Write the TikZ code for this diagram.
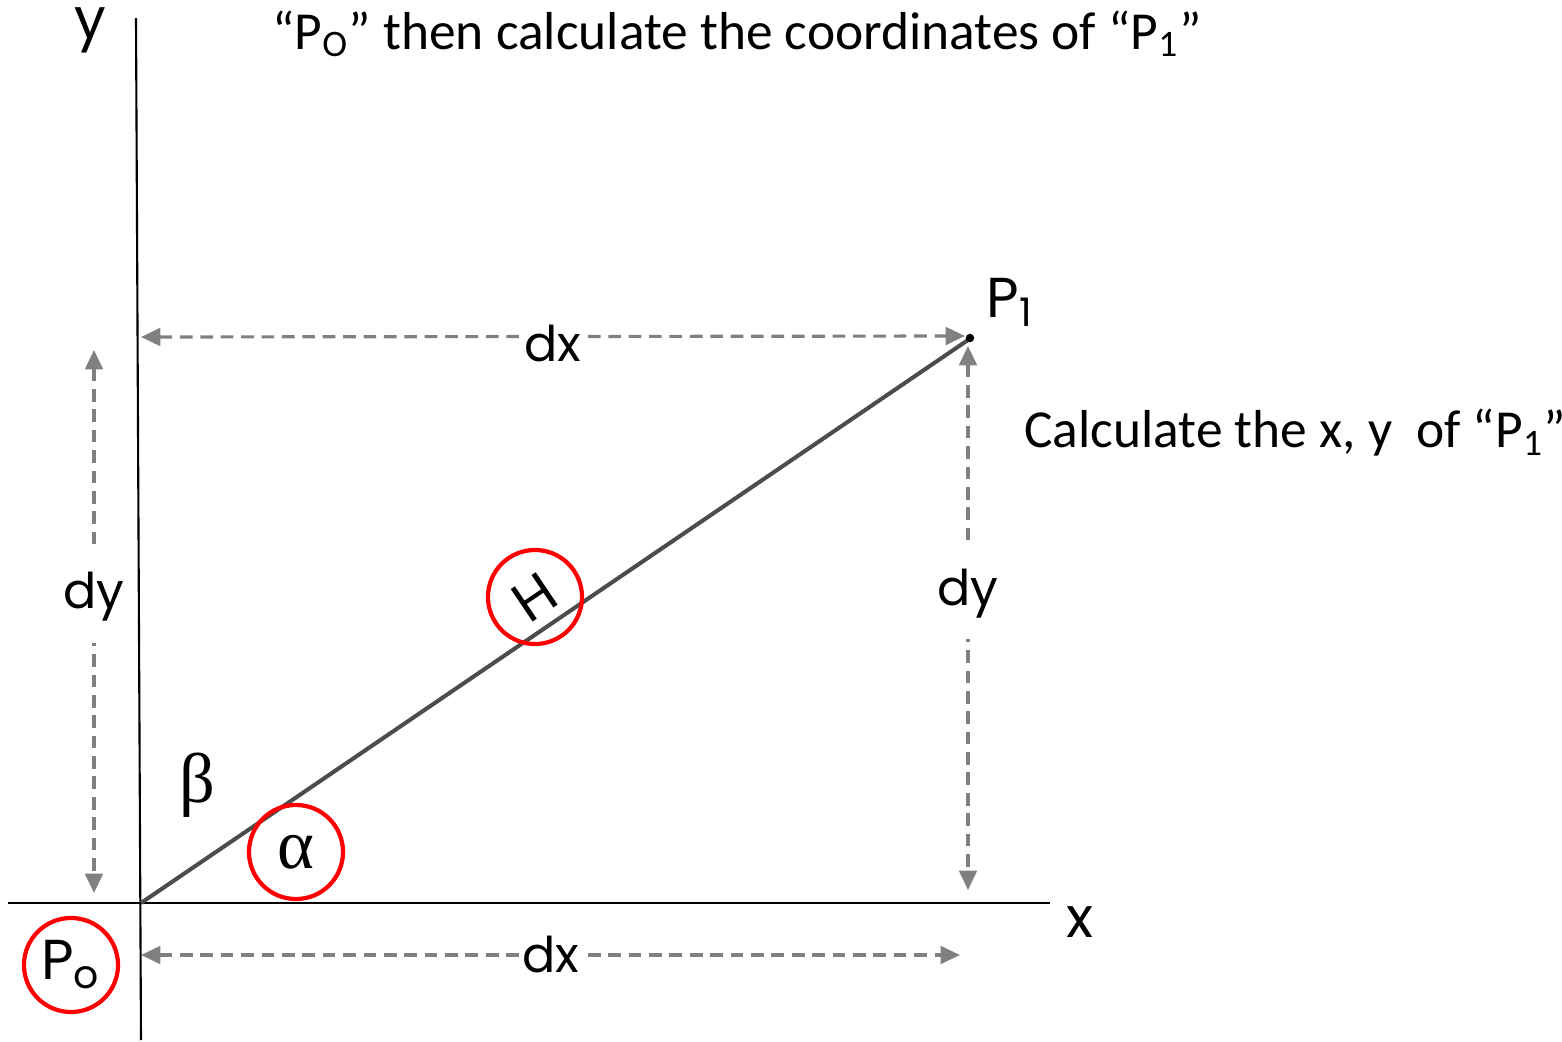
\documentclass[tikz,border=0pt]{standalone}
\usepackage{fontspec}
\setmainfont{Carlito}
\newfontfamily\handfont{Poppins}
\newfontfamily\greekfont{Liberation Serif}
\usepackage{tikz}
\usetikzlibrary{arrows.meta}

\tikzset{
  axisline/.style={line width=0.6pt},
  dimline/.style={draw=gray, line width=0.9pt, dash pattern=on 3.6pt off 2.2pt,
    {Triangle[length=5.5pt,width=5pt]}-{Triangle[length=5.5pt,width=5pt]}},
  dimlabel/.style={fill=white, inner xsep=1pt, inner ysep=2pt, font=\handfont\fontsize{14}{16}\selectfont},
  ring/.style={circle, draw=red, line width=1.2pt, minimum size=0.94cm, inner sep=0pt},
  hand/.style={font=\handfont\fontsize{16}{18}\selectfont},
  note/.style={font=\fontsize{15.2}{18}\selectfont, anchor=west}
}

\begin{document}
\begin{tikzpicture}[x=0.01cm, y=-0.01cm]
  \useasboundingbox (0,0) rectangle (1562,1042);
  % axes
  \coordinate (ytop) at (136,18);
  \coordinate (ybot) at (141,1040);
  \coordinate (xleft) at (8,903);
  \coordinate (xright) at (1050,903);
  \draw[axisline] (ytop) -- (ybot);
  \draw[axisline] (xleft) -- (xright);
  \node[hand] (ylab) at (90,30) {y};
  \node[hand] (xlab) at (1080,922) {x};

  % the segment from P0 to P1
  \coordinate (O) at (141,903);
  \coordinate (P1) at (968,340);
  \draw[line width=1.15pt, black!70] (O) -- (P1);
  \fill (970,338) circle (1.2pt);
  \node[hand] (p1lab) at (1010,302) {P\textsubscript{1}};

  % dimensions
  \coordinate (dxa) at (965,336);
  \coordinate (dxb) at (141,337);
  \draw[dimline] (dxb) -- node[dimlabel, yshift=-2pt] (dxtop) {dx} (dxa);
  \coordinate (dyla) at (94,350);
  \coordinate (dylb) at (94,893);
  \draw[dimline] (dyla) -- node[dimlabel, inner ysep=6pt, pos=0.455] (dyleft) {dy} (dylb);
  \coordinate (dyra) at (968,346);
  \coordinate (dyrb) at (968,890);
  \draw[dimline] (dyra) -- node[dimlabel, inner ysep=6pt, pos=0.455] (dyright) {dy} (dyrb);
  \coordinate (dxc) at (141,955);
  \coordinate (dxd) at (960,955);
  \draw[dimline] (dxc) -- node[dimlabel] (dxbot) {dx} (dxd);

  % marked quantities
  \node[ring, rotate=34, hand] (H) at (535,597) {H};
  \node[ring, font=\greekfont\fontsize{20}{22}\selectfont] (alpha) at (296,852) {α};
  \node[ring, hand] (P0) at (71,965) {P\textsubscript{o}};
  \node[font=\greekfont\fontsize{20}{22}\selectfont] (beta) at (197,785) {β};

  % texts
  \node[note] (title) at (260,34) {“P\textsubscript{O}” then calculate the coordinates of “P\textsubscript{1}”};
  \node[note] (task) at (1012,433) {Calculate the x, y\ \ of “P\textsubscript{1}”};
\end{tikzpicture}
\end{document}
